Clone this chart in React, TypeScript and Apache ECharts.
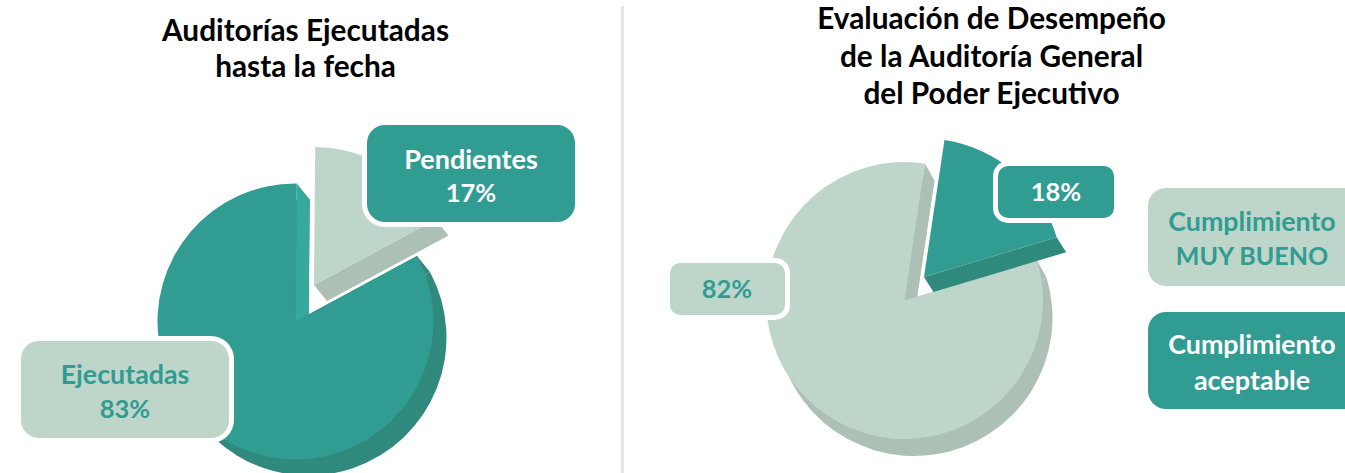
import React, { useEffect, useRef } from "react";
import * as echarts from "echarts";

const auditCategories = ["Pendientes", "Ejecutadas"];
const auditValues = [17, 83];
const evalCategories = ["Cumplimiento aceptable", "Cumplimiento MUY BUENO"];
const evalValues = [18, 82];

const DARK = "#319C92";
const DARK_SIDE = "#30897D";
const DARK_EDGE = "#36A99A";
const PALE = "#BED5C9";
const PALE_SIDE = "#ADC0B5";
const FONT = "Lato, 'Open Sans', sans-serif";

type Pt = [number, number];
const rad = (a: number) => (a * Math.PI) / 180;
const onRim = (c: Pt, r: number, a: number): Pt => [c[0] + r * Math.cos(rad(a)), c[1] - r * Math.sin(rad(a))];
const endAngle = (values: number[], start: number) => start - (values[0] / (values[0] + values[1])) * 360;

function slice(name: string, cats: string[], values: number[], idx: number, c: Pt, r: number, start: number, color: string, z: number) {
  return {
    type: "pie",
    name,
    center: c,
    radius: [0, r],
    startAngle: start,
    clockwise: true,
    silent: true,
    z,
    label: { show: false },
    labelLine: { show: false },
    emphasis: { disabled: true },
    data: values.map((v, i) => ({
      name: cats[i],
      value: v,
      itemStyle: { color: i === idx ? color : "rgba(0,0,0,0)", borderWidth: 0 },
    })),
  };
}

function edgeQuad(c: Pt, r: number, a: number, off: Pt, color: string, z: number) {
  const p = onRim(c, r, a);
  return {
    type: "polygon",
    silent: true,
    z,
    shape: { points: [c, p, [p[0] + off[0], p[1] + off[1]], [c[0] + off[0], c[1] + off[1]]] },
    style: { fill: color },
  };
}

function box(x: number, y: number, w: number, h: number, rr: number, fill: string) {
  return [
    { type: "rect", silent: true, z: 20, shape: { x: x - 5, y: y - 5, width: w + 10, height: h + 10, r: rr + 5 }, style: { fill: "#ffffff" } },
    { type: "rect", silent: true, z: 21, shape: { x, y, width: w, height: h, r: rr }, style: { fill } },
  ];
}

function label(s: string, x: number, y: number, color: string, size: number) {
  return {
    type: "text",
    silent: true,
    z: 22,
    x,
    y,
    style: { text: s, fill: color, font: `bold ${size}px ${FONT}`, textAlign: "center", textVerticalAlign: "middle" },
  };
}

export default function App() {
  const ref = useRef<HTMLDivElement>(null);
  useEffect(() => {
    document.body.style.margin = "0";
    const chart = echarts.init(ref.current!, undefined, { renderer: "svg" });

    const lc: Pt = [295.5, 321.5];
    const lp: Pt = [314, 285];
    const lr = 138;
    const lOff: Pt = [13, 16];
    const lStart = 89.5;
    const lEnd = endAngle(auditValues, lStart);

    const rc: Pt = [904.5, 300.5];
    const rp: Pt = [924, 277];
    const rr = 138.5;
    const rOff: Pt = [9.5, 17];
    const rpOff: Pt = [9.5, 15];
    const rStart = 81.5;
    const rEnd = endAngle(evalValues, rStart);

    chart.setOption({
      animation: false,
      backgroundColor: "#ffffff",
      series: [
        slice("Ejecutadas sombra", auditCategories, auditValues, 1, [lc[0] + lOff[0], lc[1] + lOff[1]], lr, lStart, DARK_SIDE, 1),
        slice("Ejecutadas", auditCategories, auditValues, 1, lc, lr, lStart, DARK, 5),
        slice("Pendientes", auditCategories, auditValues, 0, lp, lr, lStart, PALE, 7),
        slice("Muy bueno sombra", evalCategories, evalValues, 1, [rc[0] + rOff[0], rc[1] + rOff[1]], rr, rStart, PALE_SIDE, 1),
        slice("Muy bueno", evalCategories, evalValues, 1, rc, rr, rStart, PALE, 5),
        slice("Aceptable", evalCategories, evalValues, 0, rp, rr, rStart, DARK, 7),
      ],
      graphic: {
        elements: [
          { type: "line", silent: true, z: 0, shape: { x1: 622.5, y1: 6, x2: 622.5, y2: 473 }, style: { stroke: "#DCEBDD", lineWidth: 3 } },

          edgeQuad(lc, lr, lEnd, lOff, DARK_SIDE, 2),
          edgeQuad(lc, lr, lStart, lOff, DARK_EDGE, 3),
          edgeQuad(lp, lr, lEnd, lOff, PALE_SIDE, 6),

          edgeQuad(rc, rr, rEnd, rOff, PALE_SIDE, 2),
          edgeQuad(rc, rr, rStart, rOff, PALE_SIDE, 3),
          edgeQuad(rp, rr, rEnd, rpOff, DARK_SIDE, 6),

          ...box(367, 125, 208, 97, 18, DARK),
          ...box(21, 341, 208, 97, 18, PALE),
          ...box(670, 263, 115, 52, 10, PALE),
          ...box(998, 166, 116, 52, 10, DARK),
          ...box(1148, 188, 215, 98, 18, PALE).slice(1),
          ...box(1148, 312, 215, 97, 18, DARK).slice(1),

          label("Auditorías Ejecutadas", 305.5, 29, "#000000", 29.8),
          label("hasta la fecha", 305.5, 65, "#000000", 29.8),
          label("Evaluación de Desempeño", 991.5, 17, "#000000", 29.8),
          label("de la Auditoría General", 991.5, 55, "#000000", 29.8),
          label("del Poder Ejecutivo", 991.5, 92, "#000000", 29.8),

          label(auditCategories[0], 471, 158, "#ffffff", 27),
          label(`${auditValues[0]}%`, 471, 192, "#ffffff", 25.5),
          label(auditCategories[1], 125, 374, DARK, 26.8),
          label(`${auditValues[1]}%`, 125, 408, DARK, 25.5),
          label(`${evalValues[0]}%`, 1056, 191, "#ffffff", 25.5),
          label(`${evalValues[1]}%`, 727, 288, DARK, 25.5),
          label("Cumplimiento", 1252, 221, DARK, 26.8),
          label("MUY BUENO", 1252, 255, DARK, 25),
          label("Cumplimiento", 1252, 344, "#ffffff", 26.8),
          label("aceptable", 1252, 379, "#ffffff", 27),
        ],
      },
    });
    return () => chart.dispose();
  }, []);
  return <div ref={ref} style={{ width: 1345, height: 473, overflow: "hidden" }} />;
}
